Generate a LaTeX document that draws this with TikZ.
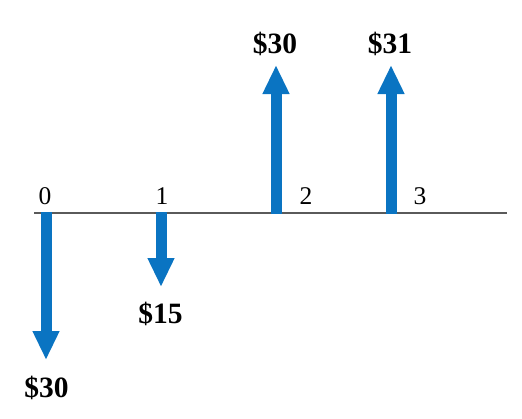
\documentclass[tikz,border=0pt]{standalone}
\usepackage{fontspec}
\setmainfont{Liberation Serif}
\usetikzlibrary{arrows.meta}
\definecolor{flowblue}{HTML}{0A74C2}
\definecolor{axisgray}{HTML}{5A5A5A}
\begin{document}
\begin{tikzpicture}[x=1pt,y=-1pt,
  flow/.style={draw=flowblue,line width=11pt,-{Triangle[width=25pt,length=29pt]},shorten <=-1pt},
  amount/.style={anchor=base,inner sep=0pt,font=\fontsize{29.5}{30}\selectfont\bfseries},
  period/.style={anchor=base,inner sep=0pt,font=\fontsize{25.5}{26}\selectfont}]
\useasboundingbox (0,0) rectangle (522,418);
% axis
\coordinate (axL) at (34,213);
\coordinate (axR) at (507,213);
\draw[axisgray,line width=2.5pt] (axL) -- (axR);
% tick points
\coordinate (t0) at (46,213);
\coordinate (t1) at (161,213);
\coordinate (t2) at (276,213);
\coordinate (t3) at (391,213);
% arrow ends
\coordinate (e0) at (46,360);
\coordinate (e1) at (161,287);
\coordinate (e2) at (276,65);
\coordinate (e3) at (391,65);
\draw[flow] (t0) -- (e0);
\draw[flow] (t1) -- (e1);
\draw[flow] (t2) -- (e2);
\draw[flow] (t3) -- (e3);
% period labels
\node[period] (p0) at (45,204) {0};
\node[period] (p1) at (162,204) {1};
\node[period] (p2) at (306,204.5) {2};
\node[period] (p3) at (420,204.5) {3};
% amounts
\node[amount] (a0) at (46.5,397) {\$30};
\node[amount] (a1) at (160.5,323) {\$15};
\node[amount] (a2) at (275,53) {\$30};
\node[amount] (a3) at (390,53) {\$31};
\end{tikzpicture}
\end{document}
